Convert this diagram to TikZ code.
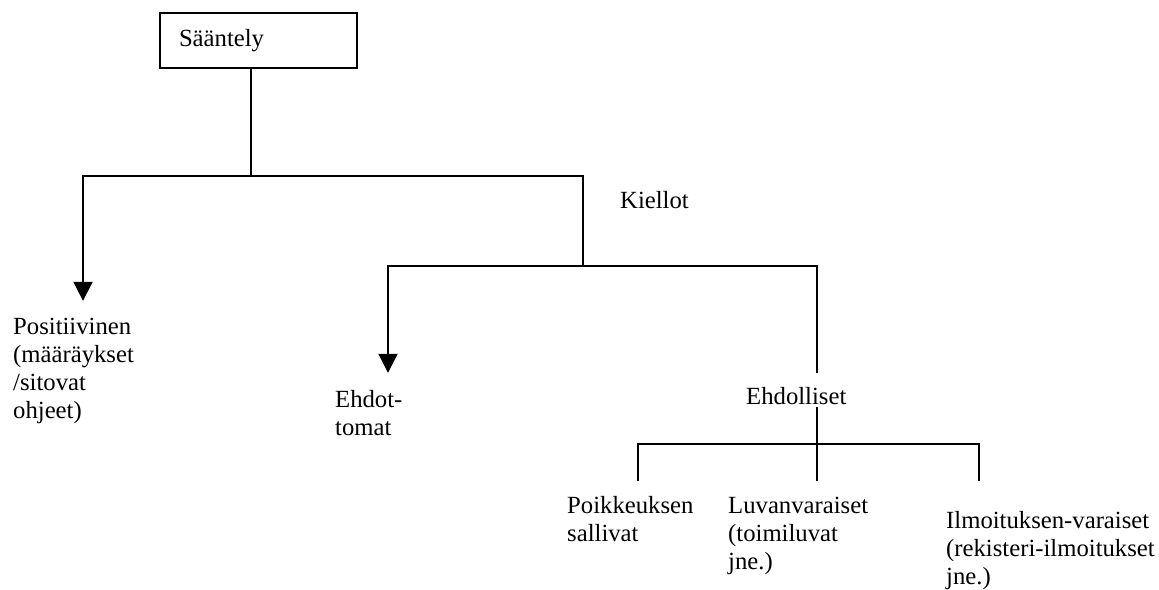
\documentclass[tikz,border=0pt]{standalone}
\usepackage{fontspec}
\setmainfont{Liberation Serif}
\usetikzlibrary{arrows.meta}
\tikzset{
  conn/.style={line width=2pt, line cap=rect},
  arr/.style={line width=2pt, -{Triangle[length=19pt,width=19pt]}},
  lbl/.style={inner sep=0pt, anchor=base west},
  boxnode/.style={draw, line width=2pt, inner sep=0pt, minimum width=197pt, minimum height=55pt}
}
\newcommand{\lines}[1]{\begin{tabular}[t]{@{}l@{}}#1\end{tabular}}
\begin{document}
\begin{tikzpicture}[x=1pt, y=-1pt, font=\fontsize{24.7}{28}\selectfont]
\useasboundingbox (0,0) rectangle (1159,589);
% nodes
\node[boxnode] (sa) at (258.5,40.5) {\makebox[159pt][l]{Sääntely}};
\node[lbl] (kiellot) at (620,208) {Kiellot};
\node[lbl] (pos) at (13,334) {\lines{Positiivinen\\(määräykset\\/sitovat\\ohjeet)}};
\node[lbl] (ehdot) at (335,407) {\lines{Ehdot-\\tomat}};
\node[lbl] (ehdol) at (746,404) {\lines{Ehdolliset}};
\node[lbl] (poik) at (567,513) {\lines{Poikkeuksen\\sallivat}};
\node[lbl] (luva) at (728,513) {\lines{Luvanvaraiset\\(toimiluvat\\jne.)}};
\node[lbl] (ilmo) at (946,528) {\lines{Ilmoituksen-varaiset\\(rekisteri-ilmoitukset\\jne.)}};
% junctions
\coordinate (j0) at (251,176);
\coordinate (jL) at (83,176);
\coordinate (jR) at (583,176);
\coordinate (k0) at (583,266);
\coordinate (kL) at (388,266);
\coordinate (kR) at (817,266);
\coordinate (m0) at (817,444);
\coordinate (mL) at (638,444);
\coordinate (mR) at (979,444);
% connectors
\draw[conn] (sa.south -| j0) -- (j0);
\draw[conn] (jL) -- (jR) -- (k0);
\draw[conn] (kL) -- (kR);
\draw[arr, shorten >=13.4pt] (jL) -- (jL |- pos.north);
\draw[arr, shorten >=14.4pt] (kL) -- (kL |- ehdot.north);
\draw[conn, shorten >=12.4pt] (kR) -- (kR |- ehdol.north);
\draw[conn, shorten <=-4.4pt] (kR |- ehdol.south) -- (m0);
\draw[conn] (mL) -- (mR);
\draw[conn, shorten >=13.4pt] (mL) -- (mL |- poik.north);
\draw[conn, shorten >=13.4pt] (m0) -- (m0 |- luva.north);
\draw[conn, shorten >=28.4pt] (mR) -- (mR |- ilmo.north);
\end{tikzpicture}
\end{document}
